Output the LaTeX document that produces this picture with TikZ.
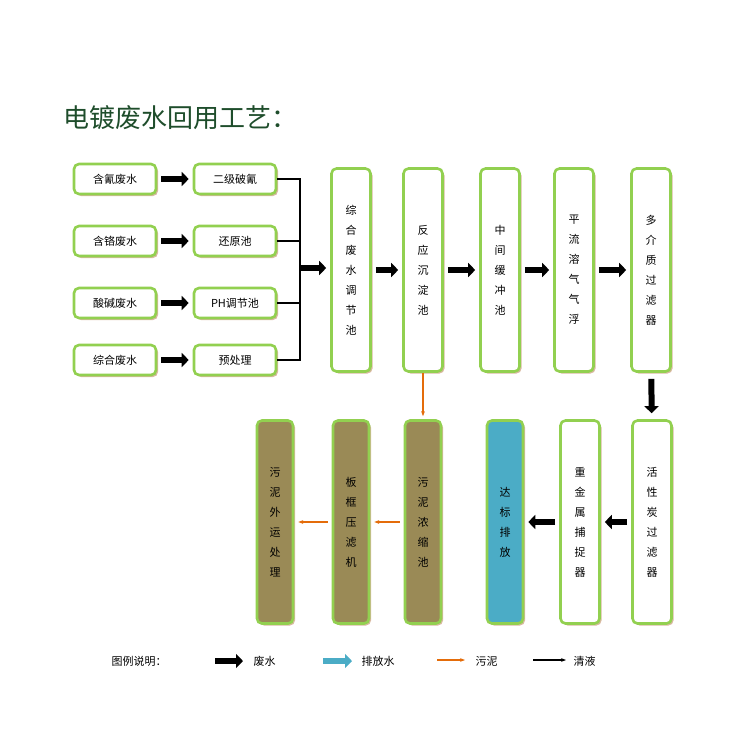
\documentclass[tikz,border=0pt]{standalone}
\usepackage{fontspec}
\setmainfont{Noto Sans CJK SC}
\usetikzlibrary{arrows.meta,shadows}
\begin{document}
\begin{tikzpicture}[x=1pt,y=-1pt,font=\fontsize{11}{20}\selectfont,
  box/.style={draw=green!60!lime!70!black!80,draw=lgreen,line width=2.6pt,rounded corners=5pt,fill=white,
    drop shadow={fill=shad,shadow xshift=2pt,shadow yshift=-2pt,opacity=1},inner sep=0pt,align=center},
  hb/.style={box,minimum width=82pt,minimum height=30pt},
  vb/.style={box,minimum width=39pt,minimum height=203pt},
  fat/.style={line width=6pt,-{Triangle[length=7pt,width=14pt]}},
  blu/.style={line width=6pt,-{Triangle[length=7pt,width=14pt]},draw=teal3},
  org/.style={draw=orng,line width=1.3pt,-{Stealth[length=5pt]}},
  thin/.style={line width=1.5pt,-{Stealth[length=5pt]}}]
\definecolor{lgreen}{HTML}{92D050}
\definecolor{shad}{HTML}{D8B8A0}
\definecolor{olive}{HTML}{9A8A56}
\definecolor{teal3}{HTML}{4BACC6}
\definecolor{orng}{HTML}{E46C0A}
\definecolor{tgreen}{HTML}{1E4D2B}
\useasboundingbox (0,0) rectangle (750,750);
\node[anchor=west,text=tgreen,font=\fontsize{26}{28}\selectfont] (title) at (60,118) {电镀废水回用工艺：};
\node[hb] (a1) at (115,179) {含氰废水};
\node[hb] (a2) at (115,241) {含铬废水};
\node[hb] (a3) at (115,303) {酸碱废水};
\node[hb] (a4) at (115,360) {综合废水};
\node[hb] (b1) at (235,179) {二级破氰};
\node[hb] (b2) at (235,241) {还原池};
\node[hb] (b3) at (235,303) {PH调节池};
\node[hb] (b4) at (235,360) {预处理};
\foreach \i in {1,...,4}{\draw[fat,shorten <=4pt,shorten >=4pt] (a\i) -- (b\i);}
\coordinate (j1) at (300,179); \coordinate (j4) at (300,360); \coordinate (jm) at (300,268);
\draw[line width=1.5pt] (b1.east) -- (j1) -- (j4) -- (b4.east);
\draw[line width=1.5pt] (b2.east) -- (b2.east-|j1);
\draw[line width=1.5pt] (b3.east) -- (b3.east-|j1);
\node[vb] (c1) at (351,270) {综\\合\\废\\水\\调\\节\\池};
\node[vb] (c2) at (423,270) {反\\应\\沉\\淀\\池};
\node[vb] (c3) at (500,270) {中\\间\\缓\\冲\\池};
\node[vb] (c4) at (574,270) {平\\流\\溶\\气\\气\\浮};
\node[vb] (c5) at (651,270) {多\\介\\质\\过\\滤\\器};
\draw[fat] (jm) -- (c1.west|-jm) [shorten >=4pt];
\draw[fat,shorten <=4pt,shorten >=4pt] (c1) -- (c2);
\draw[fat,shorten <=4pt,shorten >=4pt] (c2) -- (c3);
\draw[fat,shorten <=4pt,shorten >=4pt] (c3) -- (c4);
\draw[fat,shorten <=4pt,shorten >=4pt] (c4) -- (c5);
\node[vb] (d1) at (652,522) {活\\性\\炭\\过\\滤\\器};
\node[vb] (d2) at (580,522) {重\\金\\属\\捕\\捉\\器};
\node[vb,fill=teal3,minimum width=36pt] (d3) at (505,522) {达\\标\\排\\放};
\node[vb,fill=olive,minimum width=36pt] (d4) at (423,522) {污\\泥\\浓\\缩\\池};
\node[vb,fill=olive,minimum width=36pt] (d5) at (351,522) {板\\框\\压\\滤\\机};
\node[vb,fill=olive,minimum width=36pt] (d6) at (275,522) {污\\泥\\外\\运\\处\\理};
\draw[fat,shorten <=6pt,shorten >=6pt] (c5) -- (d1);
\draw[fat,shorten <=4pt,shorten >=4pt] (d1) -- (d2);
\draw[fat,shorten <=4pt,shorten >=4pt] (d2) -- (d3);
\draw[org,shorten >=3pt] (c2) -- (d4);
\draw[org,shorten <=4pt,shorten >=4pt] (d4) -- (d5);
\draw[org,shorten <=4pt,shorten >=4pt] (d5) -- (d6);
\node[anchor=west] (lg) at (108,661) {图例说明：};
\coordinate (l1a) at (215,661); \coordinate (l1b) at (243,661);
\draw[fat] (l1a) -- (l1b);
\node[anchor=west] (lt1) at (250,661) {废水};
\coordinate (l2a) at (323,661); \coordinate (l2b) at (352,661);
\draw[blu] (l2a) -- (l2b);
\node[anchor=west] (lt2) at (358,661) {排放水};
\coordinate (l3a) at (437,660); \coordinate (l3b) at (465,660);
\draw[org] (l3a) -- (l3b);
\node[anchor=west] (lt3) at (472,661) {污泥};
\coordinate (l4a) at (533,660); \coordinate (l4b) at (566,660);
\draw[thin] (l4a) -- (l4b);
\node[anchor=west] (lt4) at (570,661) {清液};
\end{tikzpicture}
\end{document}
